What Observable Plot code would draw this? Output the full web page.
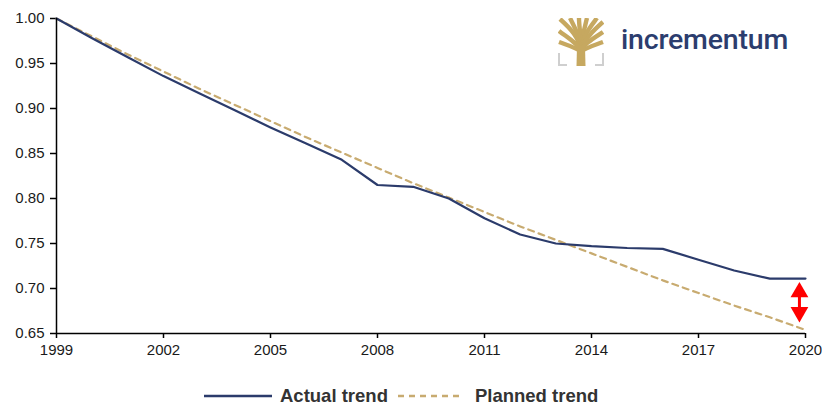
<!DOCTYPE html>
<html>
<head>
<meta charset="utf-8">
<script src="https://cdn.jsdelivr.net/npm/d3@7"></script>
<script src="https://cdn.jsdelivr.net/npm/@observablehq/plot@0.6"></script>
<style>
  body { margin: 0; background: #fff; font-family: "Liberation Sans", Arial, sans-serif; }
  #wrap { position: relative; width: 822px; height: 405px; overflow: hidden; }
  #chart { position: absolute; left: 0; top: 0; }
  #legend { position: absolute; left: 204px; top: 388px; height: 16px; line-height: 16px; display: flex; align-items: center; font-weight: bold; font-size: 18.5px; color: #333; white-space: nowrap; }
  #legend svg { display: block; }
  #logoText { position: absolute; left: 621px; top: 23px; font-family: Roboto, sans-serif; font-weight: 500; font-size: 28.5px; color: #2c3d6e; letter-spacing: -0.2px; }
  #logoIcon { position: absolute; left: 558px; top: 18px; }
</style>
</head>
<body>
<div id="wrap">
  <div id="chart"></div>
  <svg id="logoIcon" width="46" height="48" viewBox="0 0 46 48">
    <g fill="none" stroke="#c6a860" stroke-width="4.4" stroke-linecap="butt">
      <path d="M23,34 C22,20 12,10 2,1"/>
      <path d="M23,34 C22,18 16,8 12,0"/>
      <path d="M23,34 C23,18 21,8 21,0"/>
      <path d="M23,34 C24,18 27,8 29,0"/>
      <path d="M23,34 C24,18 33,8 39,0"/>
      <path d="M23,34 C25,22 36,12 45,4"/>
      <path d="M23,34 C21,26 10,20 1,13"/>
      <path d="M23,34 C25,26 36,20 45,14"/>
      <path d="M23,34 C20,30 9,27 1,24"/>
      <path d="M23,34 C26,30 37,27 45,24"/>
    </g>
    <path d="M18.5,48 L27.5,48 L27,28 L19,28 Z" fill="#c6a860"/>
    <g fill="none" stroke="#cfcfcf" stroke-width="2">
      <path d="M1,35 V47 H9"/>
      <path d="M45,35 V47 H37"/>
    </g>
  </svg>
  <div id="logoText">incrementum</div>
  <div id="legend">
    <svg width="68" height="10"><line x1="0" y1="5" x2="68" y2="5" stroke="#2b3b6b" stroke-width="2.5"/></svg>
    <span style="margin-left:8px">Actual trend</span>
    <svg width="64" height="10" style="margin-left:10px"><line x1="0" y1="5" x2="64" y2="5" stroke="#c8ab70" stroke-width="2.5" stroke-dasharray="6,5"/></svg>
    <span style="margin-left:13px">Planned trend</span>
  </div>
</div>
<script>
const years = [1999,2000,2001,2002,2003,2004,2005,2006,2007,2008,2009,2010,2011,2012,2013,2014,2015,2016,2017,2018,2019,2020];
const actualTrend = [1.000,0.978,0.957,0.936,0.917,0.898,0.879,0.861,0.843,0.815,0.813,0.800,0.778,0.760,0.750,0.747,0.745,0.744,0.732,0.720,0.711,0.711];
const plannedTrend = [1.000,0.980,0.960,0.941,0.922,0.904,0.886,0.868,0.851,0.834,0.817,0.801,0.785,0.769,0.754,0.739,0.724,0.709,0.695,0.681,0.668,0.654];
const xTicks = [1999,2002,2005,2008,2011,2014,2017,2020];
const yTicks = [0.65,0.70,0.75,0.80,0.85,0.90,0.95,1.00];
// gap annotation (double-headed arrow) between actual and planned in 2020
const gapYear = 2019.83;
const gapTop = 0.6959;
const gapBottom = 0.6737;

const chart = Plot.plot({
  width: 822,
  height: 370,
  marginLeft: 56,
  marginRight: 17,
  marginTop: 18,
  marginBottom: 37,
  style: { fontFamily: "'Liberation Sans', Arial, sans-serif", fontSize: "15px", color: "#1a1a1a", background: "white" },
  x: { domain: [1999, 2020] },
  y: { domain: [0.65, 1.0] },
  marks: [
    Plot.axisX({ ticks: xTicks, tickFormat: d => String(d), tickSize: 5, tickPadding: 6, label: null, stroke: "#000", strokeWidth: 1.5 }),
    Plot.axisY({ ticks: yTicks, tickFormat: d3.format(".2f"), tickSize: 6, tickPadding: 6, label: null, stroke: "#000", strokeWidth: 1.5 }),
    Plot.line(years, { x: years, y: plannedTrend, stroke: "#c8ab70", strokeWidth: 2.2, strokeDasharray: "6,5" }),
    Plot.line(years, { x: years, y: actualTrend, stroke: "#2b3b6b", strokeWidth: 2.2 }),
    Plot.ruleX([gapYear], { y1: gapTop, y2: gapBottom, stroke: "#ff0000", strokeWidth: 3 }),
    Plot.dot([gapTop], { x: () => gapYear, y: d => d, symbol: "triangle", r: 6.6, fill: "#ff0000", stroke: null }),
    Plot.dot([gapBottom], { x: () => gapYear, y: d => d, symbol: "triangle", r: 6.6, fill: "#ff0000", stroke: null, rotate: 180 }),
    Plot.ruleY([0.65], { stroke: "#000", strokeWidth: 1.5 }),
    Plot.ruleX([1999], { stroke: "#000", strokeWidth: 1.5 })
  ]
});
document.getElementById("chart").appendChild(chart);
</script>
</body>
</html>
